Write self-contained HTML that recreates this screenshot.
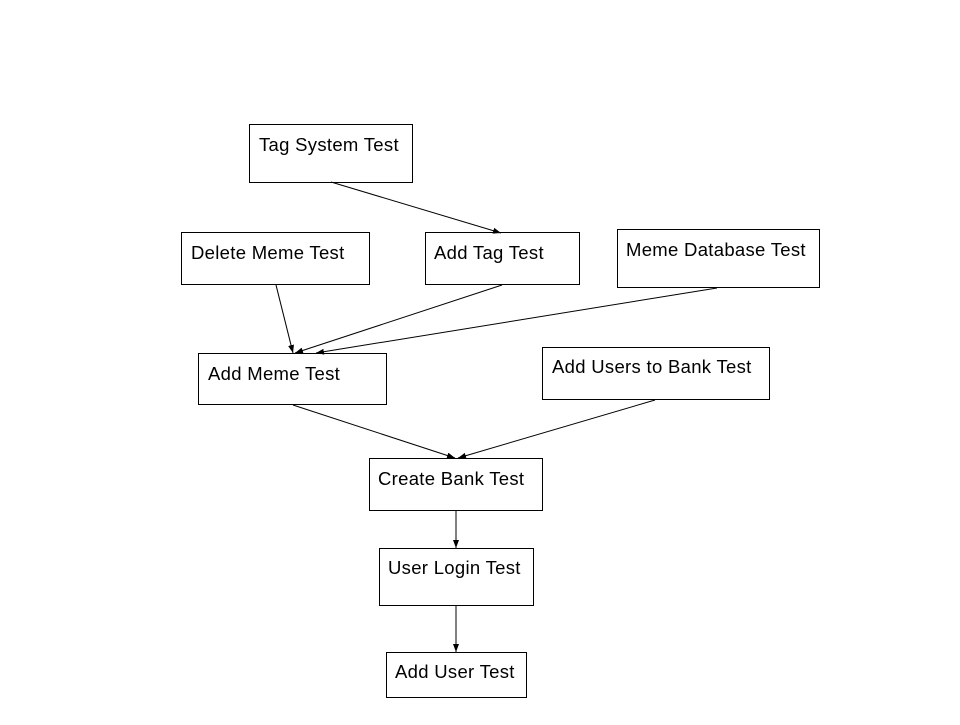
<!DOCTYPE html>
<html><head><meta charset="utf-8"><style>
body{margin:0;background:#fff;}
svg text{font-family:"Liberation Sans",Arial,sans-serif;font-size:18.5px;letter-spacing:0.3px;fill:#000;}
</style></head><body>
<svg width="960" height="720" xmlns="http://www.w3.org/2000/svg">
<defs><marker id="a" markerWidth="8" markerHeight="6" refX="8" refY="3" orient="auto" markerUnits="userSpaceOnUse"><path d="M0,0 L8,3 L0,6 z" fill="#000"/></marker></defs>
<g fill="#fff" stroke="#000" stroke-width="1">
<rect x="249.5" y="124.5" width="163" height="58"/>
<rect x="181.5" y="232.5" width="188" height="52"/>
<rect x="425.5" y="232.5" width="154" height="52"/>
<rect x="617.5" y="229.5" width="202" height="58"/>
<rect x="198.5" y="353.5" width="188" height="51"/>
<rect x="542.5" y="347.5" width="227" height="52"/>
<rect x="369.5" y="458.5" width="173" height="52"/>
<rect x="379.5" y="548.5" width="154" height="57"/>
<rect x="386.5" y="652.5" width="140" height="45"/>
</g>
<g stroke="#000" stroke-width="1" marker-end="url(#a)">
<line x1="331" y1="182" x2="501" y2="233"/>
<line x1="276" y1="285" x2="293" y2="353"/>
<line x1="502" y1="285" x2="295" y2="353"/>
<line x1="717" y1="288" x2="316" y2="353"/>
<line x1="293" y1="405" x2="455" y2="458"/>
<line x1="655" y1="400" x2="458" y2="458"/>
<line x1="456" y1="511" x2="456" y2="548"/>
<line x1="456" y1="606" x2="456" y2="652"/>
</g>
<text x="259" y="151">Tag System Test</text>
<text x="191" y="259">Delete Meme Test</text>
<text x="434" y="259">Add Tag Test</text>
<text x="626" y="256">Meme Database Test</text>
<text x="208" y="380">Add Meme Test</text>
<text x="552" y="373">Add Users to Bank Test</text>
<text x="378" y="485">Create Bank Test</text>
<text x="388" y="574">User Login Test</text>
<text x="395" y="678">Add User Test</text>
</svg>
</body></html>
